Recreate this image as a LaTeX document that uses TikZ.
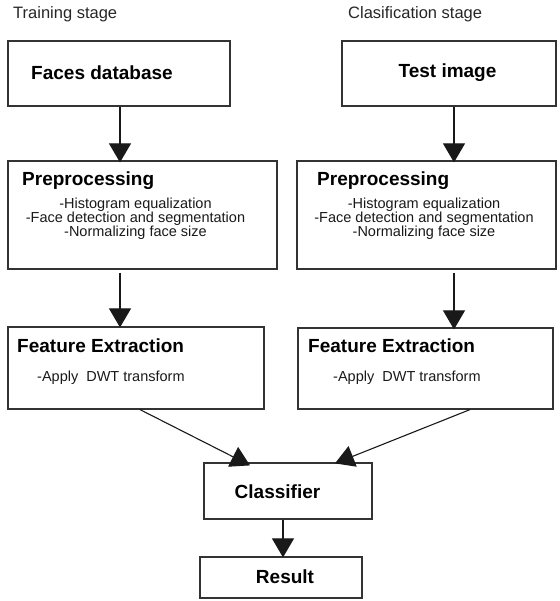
\documentclass[tikz,border=0pt]{standalone}
\usepackage{fontspec}
\setmainfont{Liberation Sans}
\usetikzlibrary{arrows.meta,calc}
\tikzset{
  boxnode/.style={draw=black!80, line width=1.2pt, rectangle, inner sep=0pt},
  arrowline/.style={draw=black!90, line width=1.1pt, -{Triangle[length=19pt,width=22pt]}},
  stagelabel/.style={font=\fontsize{16.5}{18}\selectfont, text=black!85, inner sep=0pt, anchor=west},
  boxtitle/.style={font=\fontsize{19}{21}\selectfont\bfseries, text=black, inner sep=0pt},
  subtext/.style={font=\fontsize{14.5}{13.8}\selectfont, text=black!90, inner sep=0pt, align=center},
}
\begin{document}
\begin{tikzpicture}[x=1pt,y=-1pt]
\useasboundingbox (0,0) rectangle (559,601);
% boxes
\node[boxnode, minimum width=222pt, minimum height=65pt] (fdb) at (119,73.5) {};
\node[boxnode, minimum width=214pt, minimum height=65pt] (test) at (449,73.5) {};
\node[boxnode, minimum width=269pt, minimum height=108pt] (pre1) at (142.5,215) {};
\node[boxnode, minimum width=259pt, minimum height=108pt] (pre2) at (426.5,215) {};
\node[boxnode, minimum width=256pt, minimum height=82pt] (fe1) at (136,368) {};
\node[boxnode, minimum width=255pt, minimum height=81pt] (fe2) at (425.5,368.5) {};
\node[boxnode, minimum width=168pt, minimum height=56pt] (cls) at (288,491) {};
\node[boxnode, minimum width=162pt, minimum height=41pt] (res) at (281,577.5) {};
% labels
\node[stagelabel] (lt) at (13,14) {Training stage};
\node[stagelabel] (lc) at (348,14) {Clasification stage};
\node[boxtitle] (tfdb) at (102,73) {Faces database};
\node[boxtitle] (ttest) at (447.5,73) {Test image};
\node[boxtitle, anchor=west] (tpre1) at (22,181) {Preprocessing};
\node[boxtitle, anchor=west] (tpre2) at (317,181) {Preprocessing};
\node[subtext] (spre1) at (135.5,218.5) {-Histogram equalization\\-Face detection and segmentation\\-Normalizing face size};
\node[subtext] (spre2) at (424,218.5) {-Histogram equalization\\-Face detection and segmentation\\-Normalizing face size};
\node[boxtitle, anchor=west] (tfe1) at (17,346) {Feature Extraction};
\node[boxtitle, anchor=west] (tfe2) at (308,346) {Feature Extraction};
\node[subtext, anchor=west] (sfe1) at (37,378) {-Apply\ \ DWT transform};
\node[subtext, anchor=west] (sfe2) at (333,378) {-Apply\ \ DWT transform};
\node[boxtitle] (tcls) at (277.5,492) {Classifier};
\node[boxtitle] (tres) at (285,577) {Result};
% connectors
\draw[arrowline] ($(fdb.south)+(1,0)$) -- ($(pre1.north -| fdb.south)+(1,2)$);
\draw[arrowline] ($(test.south)+(5,0)$) -- ($(pre2.north -| test.south)+(5,2)$);
\draw[arrowline, shorten <=3pt] ($(pre1.south -| fdb.south)+(1,0)$) -- ($(fe1.north -| fdb.south)+(1,1)$);
\draw[arrowline, shorten <=3pt] ($(pre2.south -| test.south)+(5,0)$) -- ($(fe2.north -| test.south)+(5,2)$);
\draw[arrowline] ($(fe1.south)+(4,0)$) -- ($(cls.north)+(-38,3)$);
\draw[arrowline] ($(fe2.south)+(44.5,0)$) -- ($(cls.north)+(47,1)$);
\draw[arrowline] ($(cls.south)+(-5,0)$) -- ($(res.north)+(2,1)$);
\end{tikzpicture}
\end{document}
